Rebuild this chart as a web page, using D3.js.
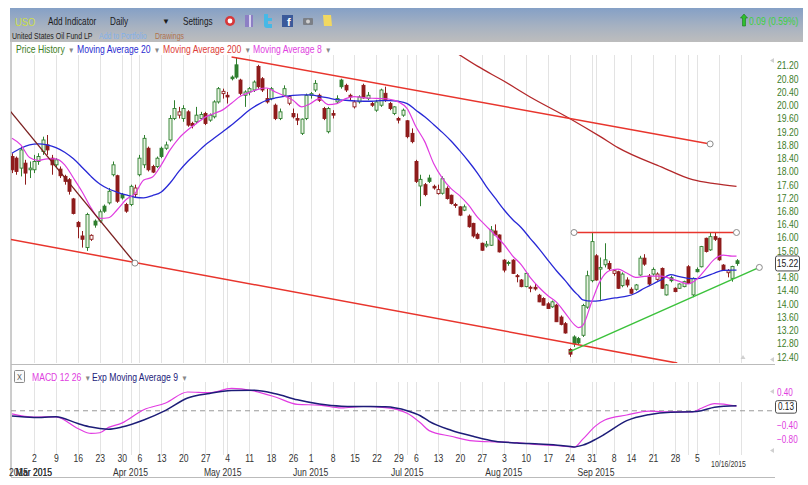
<!DOCTYPE html>
<html>
<head>
<meta charset="utf-8">
<script src="https://d3js.org/d3.v7.min.js"></script>
<style>
  body { margin: 0; background: #fff; }
  svg { display: block; font-family: "Liberation Sans", Arial, sans-serif; }
</style>
</head>
<body>
<div id="chartHere"></div>
<script>

var dims = {"width": 808, "height": 485};

// USO daily, Feb 23 - Oct 16 2015 (trading days only)
var firstDay = "2015-02-23", lastDay = "2015-10-16";
var holidays = ["2015-04-03", "2015-05-25", "2015-07-03", "2015-09-07"];

var open  = [18.45,18.4,18.1,18.25,18.05,18.05,18.3,18.6,18.8,18.4,18.2,18.07,17.85,17.75,17.17,16.46,16.05,15.7,15.95,16.5,
             16.5,16.95,17.05,17.9,17.87,17.3,17.0,17.0,17.3,17.9,18.2,18.7,18.15,18.15,18.7,18.7,18.95,19.6,19.7,19.6,
             19.8,19.45,19.5,19.6,19.75,19.55,19.65,20.1,20.35,20.3,20.85,21.22,20.76,20.3,20.4,20.46,21.17,20.8,20.2,20.2,
             20.0,19.6,20.3,20.06,19.75,19.6,19.15,19.6,20.3,20.46,20.3,19.9,19.2,19.75,20.1,20.76,20.6,20.3,19.95,20.1,
             20.6,20.2,20.05,19.85,20.0,20.36,20.05,19.75,19.6,19.7,19.53,19.15,18.3,17.56,17.6,17.8,17.55,17.33,17.34,17.49,
             17.28,17.0,16.93,16.83,16.65,16.43,16.1,15.83,15.75,15.77,16.2,16.08,15.32,15.25,15.32,14.85,14.72,14.52,14.5,14.5,
             14.26,14.16,14.0,13.91,13.96,13.6,13.4,12.62,13.0,12.95,13.05,13.9,14.7,15.45,15.05,15.18,15.22,14.92,14.97,14.55,
             14.72,14.44,14.44,14.87,15.38,14.84,14.9,14.74,15.07,14.27,14.79,14.47,14.47,14.52,15.12,14.27,15.04,15.12,15.98,15.63,
             16.03,15.98,15.17,14.94,14.77,15.3];
var high  = [18.55,18.45,18.75,18.35,18.3,18.5,18.55,19.05,19.1,18.5,18.4,18.15,17.9,17.8,17.2,16.5,16.2,16.75,16.1,16.55,
             16.85,17.0,17.5,18.3,17.9,17.35,17.05,17.6,17.6,18.5,19.1,18.75,18.2,18.45,18.75,18.9,19.7,20.15,19.95,20.0,
             19.85,19.5,19.95,19.8,19.8,19.75,20.15,20.55,20.5,20.4,20.9,21.44,20.8,20.45,20.55,20.75,21.22,20.85,20.5,20.55,
             20.05,19.9,20.6,20.3,19.9,19.75,19.6,20.35,20.4,20.76,20.35,19.95,19.95,19.85,20.3,20.8,20.65,20.35,20.15,20.3,
             20.65,20.4,20.1,20.16,20.5,20.56,20.1,19.97,19.65,19.9,19.55,19.3,18.35,17.9,17.65,17.9,17.6,17.6,17.85,17.55,
             17.3,17.05,16.95,17.0,16.7,16.45,16.15,15.85,15.9,16.35,16.4,16.1,15.35,15.3,15.35,14.9,14.75,14.95,14.55,14.6,
             14.3,14.2,14.05,14.1,14.0,13.65,13.45,12.66,13.05,13.0,14.0,15.0,16.15,15.5,15.4,15.83,15.3,15.05,15.0,14.95,
             14.8,14.5,14.6,15.45,15.5,14.9,15.1,14.95,15.1,14.6,14.85,14.5,14.62,14.7,15.17,14.8,15.1,15.75,16.0,16.15,
             16.15,16.0,15.2,15.05,15.15,15.35];
var low   = [17.95,17.9,17.85,17.6,17.8,17.95,18.2,18.5,18.5,17.9,18.1,17.8,17.6,17.3,16.7,15.98,15.7,15.6,15.9,16.3,
             16.45,16.75,17.0,17.85,17.05,17.15,16.75,16.95,17.2,17.85,18.1,18.0,17.95,18.1,18.4,18.65,18.9,19.55,19.6,19.5,
             19.35,19.3,19.45,19.55,19.4,19.5,19.6,20.05,20.2,20.05,20.75,20.8,20.3,19.95,20.3,20.4,20.5,20.4,20.05,20.15,
             19.55,19.55,20.25,20.0,19.6,19.4,19.1,19.55,20.2,20.4,20.1,19.55,19.15,19.6,20.05,20.5,20.4,20.15,19.9,20.05,
             20.2,20.15,19.95,19.8,19.95,20.1,19.85,19.7,19.45,19.65,19.0,18.85,17.65,16.95,17.25,17.65,17.45,17.3,17.3,17.15,
             17.0,16.9,16.65,16.8,16.3,16.0,15.95,15.6,15.7,15.75,16.05,15.55,14.95,15.15,14.9,14.65,14.5,14.5,14.35,14.4,
             14.05,13.95,13.85,13.88,13.45,13.35,13.1,12.4,12.7,12.75,13.0,13.85,14.65,14.7,14.12,15.1,15.0,14.85,14.45,14.5,
             14.5,14.3,14.4,14.85,15.15,14.55,14.85,14.7,14.45,14.25,14.65,14.35,14.45,14.5,14.6,14.2,14.95,15.1,15.55,15.6,
             15.9,15.3,15.0,14.8,14.67,15.15];
var close = [18.05,18.0,18.65,17.95,18.1,18.3,18.45,18.95,18.65,18.2,18.35,17.87,17.7,17.4,16.73,16.33,15.95,16.7,16.07,16.38,
             16.78,16.8,17.4,18.2,17.1,17.2,16.8,17.55,17.5,18.4,19.0,18.05,17.98,18.4,18.45,18.8,19.6,19.9,19.8,19.9,
             19.4,19.38,19.7,19.72,19.45,19.7,20.1,20.5,20.42,20.25,20.8,20.85,20.36,20.4,20.5,20.7,20.56,20.46,20.1,20.5,
             19.6,19.8,20.5,20.26,19.65,19.55,19.58,20.3,20.35,20.66,20.15,19.6,19.9,19.7,20.2,20.56,20.46,20.25,20.1,20.25,
             20.22,20.3,20.0,20.1,20.46,20.16,19.9,19.95,19.55,19.85,19.05,18.9,17.7,17.76,17.3,17.7,17.5,17.45,17.78,17.18,
             17.03,16.98,16.68,16.93,16.33,16.05,15.98,15.62,15.8,16.23,16.08,15.57,15.02,15.22,14.92,14.82,14.52,14.92,14.47,14.45,
             14.06,13.96,13.86,14.06,13.46,13.38,13.12,12.48,12.79,12.82,13.95,14.85,15.88,14.72,15.1,15.33,15.06,15.0,14.47,14.9,
             14.57,14.32,14.57,15.38,15.2,14.6,15.04,14.9,14.47,14.57,14.7,14.37,14.6,14.67,14.62,14.77,14.97,15.73,15.58,16.03,
             15.95,15.33,15.02,15.0,15.13,15.22];

// moving averages, by trading-day index
var maDays = [0,2,4,6,8,10,12,14,16,18,20,22,24,26,28,30,32,34,36,38,40,42,44,46,48,50,52,54,56,58,60,62,64,66,68,70,72,74,76,78,
              80,82,84,86,88,90,92,94,96,98,100,102,104,106,108,110,112,114,116,118,120,122,124,126,128,129,130,132,134,136,
              138,140,142,144,146,148,150,152,154,156,158,160,162,164,165];
var ma20 = [18.55,18.7,18.8,18.83,18.8,18.72,18.58,18.38,18.12,17.85,17.62,17.47,17.37,17.29,17.22,17.2,17.27,17.38,17.65,18.0,
            18.3,18.55,18.8,19.0,19.2,19.4,19.62,19.85,20.02,20.15,20.22,20.27,20.3,20.31,20.31,20.27,20.22,20.17,20.15,20.13,
            20.12,20.12,20.14,20.14,20.12,20.05,19.85,19.65,19.42,19.18,18.92,18.62,18.3,17.95,17.55,17.2,16.85,16.55,16.3,15.98,
            15.67,15.33,15.0,14.7,14.38,14.25,14.12,14.08,14.1,14.15,14.19,14.23,14.32,14.47,14.6,14.74,14.88,14.82,14.77,14.76,
            14.83,14.93,15.01,15.02,15.02];
var ma8  = [19.0,18.8,18.42,18.33,18.38,18.38,18.2,17.8,17.38,16.9,16.58,16.6,16.85,17.15,17.33,17.74,17.83,18.2,18.65,19.0,
            19.25,19.45,19.64,19.75,19.86,20.06,20.27,20.38,20.48,20.52,20.4,20.28,20.15,19.95,20.05,20.2,20.02,20.05,20.2,20.26,
            20.23,20.21,20.2,20.18,20.1,19.9,19.35,18.9,18.25,17.8,17.48,17.26,16.98,16.62,16.35,16.08,15.8,15.45,15.18,14.8,
            14.5,14.25,14.05,13.72,13.38,13.28,13.35,14.05,14.7,15.0,15.05,14.93,14.8,14.83,14.84,14.84,14.76,14.68,14.6,14.75,
            15.05,15.35,15.47,15.44,15.44];
var ma200Days = [101,106,112,118,127,134,138,148,155,160,165];
var ma200     = [21.6,21.18,20.73,20.25,19.6,19.05,18.72,18.13,17.75,17.63,17.55];

var macdDays   = [0,5,10,15,18,20,22,25,30,35,40,45,50,55,60,65,70,75,80,85,90,93,95,100,105,110,115,120,125,128,130,133,135,140,145,150,155,157,160,165];
var macd       = [-0.09,-0.18,-0.17,-0.5,-0.64,-0.62,-0.47,-0.35,0.03,0.22,0.53,0.51,0.63,0.56,0.39,0.18,0.16,0.08,0.12,0.09,
                  -0.07,-0.34,-0.56,-0.72,-0.85,-0.88,-0.9,-0.96,-0.99,-1.03,-0.8,-0.42,-0.26,-0.12,-0.01,-0.03,-0.03,0.07,0.2,0.13];
var macdSignal = [-0.15,-0.19,-0.17,-0.36,-0.46,-0.5,-0.52,-0.46,-0.26,0.01,0.36,0.49,0.57,0.58,0.48,0.31,0.19,0.13,0.12,0.11,
                  0.0,-0.14,-0.3,-0.55,-0.72,-0.86,-0.91,-0.94,-0.98,-1.02,-0.97,-0.8,-0.66,-0.28,-0.11,-0.04,-0.03,0.0,0.1,0.14];

var priceTicks = [12.4,12.8,13.2,13.6,14.0,14.4,14.8,15.2,15.6,16.0,16.4,16.8,17.2,17.6,18.0,18.4,18.8,19.2,19.6,20.0,20.4,20.8,21.2];
var macdTicks = [0.4, -0.4, -0.8];
var lastPrice = 15.22, lastMacd = 0.13;
var changeText = "0.09 (0.59%)";

// user drawings: [day index, price]
var channelTop    = [[50, 21.46], [159, 18.83]];
var channelBottom = [[-0.5, 15.95], [151.5, 12.21]];
var downTrend     = [[-0.5, 19.84], [28, 15.23]];
var resistance    = [[128, 16.155], [165, 16.155]];
var supportLine   = [[126.9, 12.55], [170.2, 15.1]];


var parseDay = d3.timeParse("%Y-%m-%d");
var dayKey = d3.timeFormat("%Y-%m-%d");
var dates = d3.timeDay.range(parseDay(firstDay), d3.timeDay.offset(parseDay(lastDay), 1))
  .filter(function (d) { return d.getDay() != 0 && d.getDay() != 6 && holidays.indexOf(dayKey(d)) < 0; });

// the original UI font is a narrow one: squeeze Liberation Sans sideways
var squeeze = 0.82;

var svg = d3.select("#chartHere").append("svg")
  .attr("width", dims.width)
  .attr("height", dims.height);

function label(parent, px, py, txt, size, color) {
  return parent.append("text")
    .attr("transform", "translate(" + px + "," + py + ") scale(" + squeeze + ",1)")
    .attr("font-size", size)
    .attr("fill", color)
    .text(txt);
}

var x = d3.scaleLinear().domain([0, close.length - 1]).range([12, 736.5]);
var y = d3.scaleLinear().domain([12.4, 21.2]).range([356.8, 65.5]);
var ym = d3.scaleLinear().domain([-0.8, 0.4]).range([439.1, 396.6]);

var defs = svg.append("defs");
var grad = defs.append("linearGradient").attr("id", "barGrad")
  .attr("x1", 0).attr("y1", 0).attr("x2", 0).attr("y2", 1);
grad.append("stop").attr("offset", "0%").attr("stop-color", "#85a0c6");
grad.append("stop").attr("offset", "55%").attr("stop-color", "#a7b2c1");
grad.append("stop").attr("offset", "100%").attr("stop-color", "#bdbdbd");
defs.append("clipPath").attr("id", "priceClip").append("rect")
  .attr("x", 11).attr("y", 55).attr("width", 761).attr("height", 308);
defs.append("clipPath").attr("id", "macdClip").append("rect")
  .attr("x", 11).attr("y", 380).attr("width", 761).attr("height", 76);

// ---- toolbar
svg.append("rect").attr("x", 10).attr("y", 8).attr("width", 793).attr("height", 34).attr("fill", "url(#barGrad)");

var bar = svg.append("g");
label(bar, 15, 26, "USO", 11.5, "#cddf4a");
label(bar, 48, 25, "Add Indicator", 10, "#1a1a1a");
label(bar, 110, 25, "Daily", 10, "#1a1a1a");
bar.append("text").attr("x", 162).attr("y", 24).attr("font-size", 8).attr("fill", "#1a1a1a").text("▼");
label(bar, 183, 25, "Settings", 10, "#1a1a1a");

// little toolbar icons
bar.append("circle").attr("cx", 230).attr("cy", 21).attr("r", 5).attr("fill", "#d8383a");
bar.append("circle").attr("cx", 230).attr("cy", 21).attr("r", 2.4).attr("fill", "#fff");
bar.append("rect").attr("x", 245).attr("y", 15).attr("width", 8).attr("height", 12).attr("fill", "#8c7fc4");
bar.append("rect").attr("x", 249).attr("y", 15).attr("width", 2).attr("height", 12).attr("fill", "#d9d4f0");
bar.append("path").attr("d", "M264,14 h4 v4 h4 v3 h-4 v3 h4 v4 h-5 q-3,0 -3,-3 z").attr("fill", "#46b8e6");
bar.append("rect").attr("x", 282).attr("y", 15).attr("width", 11).attr("height", 12).attr("fill", "#3b5a9a");
bar.append("text").attr("x", 287).attr("y", 26).attr("fill", "#fff").attr("font-size", 11).attr("font-weight", "bold").text("f");
bar.append("rect").attr("x", 303).attr("y", 18).attr("width", 10).attr("height", 7).attr("rx", 1).attr("fill", "#7b7f86");
bar.append("circle").attr("cx", 308).attr("cy", 21.5).attr("r", 2).attr("fill", "#d0d0d0");
bar.append("path").attr("d", "M323,15 h8 l1,11 h-8 z").attr("fill", "#f2d860");

label(bar, 12, 39, "United States Oil Fund LP", 8.5, "#222");
label(bar, 99, 39, "Add to Portfolio", 8.5, "#80b0ea");
label(bar, 155, 39, "Drawings", 8.5, "#b0714c");

bar.append("path").attr("d", "M744,14 l3.5,4 h-2 v8 h-3 v-8 h-2 z").attr("fill", "#2fbf2f").attr("stroke", "#1a7a1a").attr("stroke-width", 0.6);
label(bar, 749, 25, changeText, 10.5, "#3fd03f");

// ---- legend
var legend = [
  {"label": "Price History", "color": "#3d7d23", "x": 16},
  {"label": "Moving Average 20", "color": "#2b2bd0", "x": 77},
  {"label": "Moving Average 200", "color": "#dd3b36", "x": 163},
  {"label": "Moving Average 8", "color": "#e040e0", "x": 253}
];
legend.forEach(function (d) {
  label(svg, d.x, 53, d.label, 10.5, d.color)
    .append("tspan").attr("fill", "#888").attr("font-size", 8).attr("dx", 4).text("▼");
});

// ---- frame
svg.append("line").attr("x1", 11).attr("x2", 11).attr("y1", 42).attr("y2", 477).attr("stroke", "#9a9a9a");
svg.append("line").attr("x1", 11).attr("x2", 775).attr("y1", 364.5).attr("y2", 364.5).attr("stroke", "#bbbbbb");
svg.append("line").attr("x1", 11).attr("x2", 775).attr("y1", 477.5).attr("y2", 477.5).attr("stroke", "#bbbbbb");

// ---- vertical grid: first trading day of each week and month, plus next Monday
var gridDays = [];
dates.forEach(function (d, i) {
  if (i == 0) return;
  var newWeek = d3.timeMonday.floor(d).getTime() != d3.timeMonday.floor(dates[i - 1]).getTime();
  var newMonth = d.getMonth() != dates[i - 1].getMonth();
  if (newWeek || newMonth) gridDays.push(i);
});
gridDays.push(dates.length);

var weekDays = gridDays.filter(function (i) {
  return i < dates.length && d3.timeMonday.floor(dates[i]).getTime() != d3.timeMonday.floor(dates[i - 1]).getTime();
});
var monthDays = gridDays.filter(function (i) {
  return i < dates.length && dates[i].getMonth() != dates[i - 1].getMonth();
});

svg.append("g").selectAll("line").data(gridDays).enter().append("line")
  .attr("x1", function (d) { return Math.round(x(d)) + 0.5; })
  .attr("x2", function (d) { return Math.round(x(d)) + 0.5; })
  .attr("y1", 55).attr("y2", 363)
  .attr("stroke", "#e3e3e3");
svg.append("g").selectAll("line").data(gridDays).enter().append("line")
  .attr("x1", function (d) { return Math.round(x(d)) + 0.5; })
  .attr("x2", function (d) { return Math.round(x(d)) + 0.5; })
  .attr("y1", 382).attr("y2", 455)
  .attr("stroke", "#e3e3e3");

// ---- price panel
var plot = svg.append("g").attr("clip-path", "url(#priceClip)");

var candles = plot.append("g").selectAll("g").data(close).enter().append("g");
function candleColor(i) {
  var prev = i > 0 ? close[i - 1] : open[i];
  return close[i] >= prev ? "#2f7f2f" : "#8f1c1c";
}
function hollow(i) { return close[i] >= open[i]; }

candles.append("line")
  .attr("x1", function (d, i) { return Math.round(x(i)) + 0.5; })
  .attr("x2", function (d, i) { return Math.round(x(i)) + 0.5; })
  .attr("y1", function (d, i) { return y(high[i]); })
  .attr("y2", function (d, i) { return y(low[i]); })
  .attr("stroke", function (d, i) { return candleColor(i); });
candles.append("rect")
  .attr("x", function (d, i) { return Math.round(x(i)) - 1; })
  .attr("width", 3)
  .attr("y", function (d, i) { return y(Math.max(open[i], close[i])); })
  .attr("height", function (d, i) { return Math.max(1, Math.abs(y(open[i]) - y(close[i]))); })
  .attr("fill", function (d, i) {
    if (!hollow(i)) return candleColor(i);
    return close[i] >= (i > 0 ? close[i - 1] : open[i]) ? "#e8f3e2" : "#ffffff";
  })
  .attr("stroke", function (d, i) { return candleColor(i); })
  .attr("stroke-width", 0.9);

function curveOf(days, vals) {
  return d3.line()
    .x(function (d, k) { return x(days[k]); })
    .y(function (d) { return y(d); })
    .curve(d3.curveMonotoneX)(vals);
}
plot.append("path").attr("d", curveOf(ma200Days, ma200)).attr("fill", "none").attr("stroke", "#b3282a").attr("stroke-width", 1.3);
plot.append("path").attr("d", curveOf(maDays, ma20)).attr("fill", "none").attr("stroke", "#2828d6").attr("stroke-width", 1.3);
plot.append("path").attr("d", curveOf(maDays, ma8)).attr("fill", "none").attr("stroke", "#e03ce0").attr("stroke-width", 1.2);

var segment = d3.line().x(function (d) { return x(d[0]); }).y(function (d) { return y(d[1]); });
var drawings = [
  {"pts": channelTop, "color": "#e8352d", "w": 1.5, "ends": [1]},
  {"pts": channelBottom, "color": "#e8352d", "w": 1.5, "ends": []},
  {"pts": downTrend, "color": "#7a1f1f", "w": 1.3, "ends": [1]},
  {"pts": resistance, "color": "#e8352d", "w": 1.5, "ends": [0, 1]},
  {"pts": supportLine, "color": "#3cc23c", "w": 1.5, "ends": [1]}
];
drawings.forEach(function (dr) {
  plot.append("path").attr("d", segment(dr.pts)).attr("fill", "none")
    .attr("stroke", dr.color).attr("stroke-width", dr.w);
  dr.ends.forEach(function (e) {
    plot.append("circle").attr("cx", x(dr.pts[e][0])).attr("cy", y(dr.pts[e][1])).attr("r", 3)
      .attr("fill", "#fff").attr("stroke", "#8a8a8a");
  });
});

// price axis on the right
var yAxis = d3.axisRight(y)
  .tickValues(priceTicks.filter(function (t) { return Math.abs(y(t) - y(lastPrice)) > 9; }))
  .tickSize(0).tickPadding(0)
  .tickFormat(d3.format(".2f"));
var ya = svg.append("g").attr("transform", "translate(777,0)").call(yAxis);
ya.select(".domain").remove();
ya.selectAll("text").attr("fill", "#3d7d2a").attr("font-size", 10.5)
  .attr("font-family", "Liberation Sans, Arial, sans-serif")
  .attr("transform", "scale(" + squeeze + ",1)");

svg.append("rect").attr("x", 775.5).attr("y", y(lastPrice) - 7.5).attr("width", 24).attr("height", 15).attr("rx", 2)
  .attr("fill", "#fff").attr("stroke", "#4a4a4a");
label(svg, 787.5, y(lastPrice) + 3.8, d3.format(".2f")(lastPrice), 10.5, "#222").attr("text-anchor", "middle");

svg.append("path").attr("d", "M774,58 l-4,2.5 l4,2.5 z").attr("fill", "#d0d0d0");
svg.append("path").attr("d", "M774,357 l-4,2.5 l4,2.5 z").attr("fill", "#d0d0d0");
svg.append("path").attr("d", "M743,355 l2.5,4 h-5 z").attr("fill", "#d0d0d0");

// ---- MACD panel
svg.append("rect").attr("x", 14.5).attr("y", 370.5).attr("width", 10).attr("height", 12).attr("rx", 1)
  .attr("fill", "#fafafa").attr("stroke", "#8a8a8a");
label(svg, 19.5, 380, "X", 9, "#555").attr("text-anchor", "middle");
label(svg, 32, 381, "MACD 12 26", 10.5, "#e040e0")
  .append("tspan").attr("fill", "#888").attr("font-size", 8).attr("dx", 4).text("▼");
label(svg, 92, 381, "Exp Moving Average 9", 10.5, "#22227a")
  .append("tspan").attr("fill", "#888").attr("font-size", 8).attr("dx", 4).text("▼");

var mplot = svg.append("g").attr("clip-path", "url(#macdClip)");
mplot.append("line").attr("x1", 11).attr("x2", 772).attr("y1", ym(0)).attr("y2", ym(0))
  .attr("stroke", "#999").attr("stroke-dasharray", "5,4");

function macdCurve(vals) {
  return d3.line()
    .x(function (d, k) { return x(macdDays[k]); })
    .y(function (d) { return ym(d); })
    .curve(d3.curveMonotoneX)(vals);
}
mplot.append("path").attr("d", macdCurve(macd)).attr("fill", "none").attr("stroke", "#e23ce2").attr("stroke-width", 1.2);
mplot.append("path").attr("d", macdCurve(macdSignal)).attr("fill", "none").attr("stroke", "#1d1d78").attr("stroke-width", 1.5);

var mAxis = d3.axisRight(ym).tickValues(macdTicks).tickSize(0).tickPadding(0).tickFormat(d3.format(".2f"));
var ma = svg.append("g").attr("transform", "translate(777,0)").call(mAxis);
ma.select(".domain").remove();
ma.selectAll("text").attr("fill", "#e040e0").attr("font-size", 10)
  .attr("font-family", "Liberation Sans, Arial, sans-serif")
  .attr("transform", "scale(" + squeeze + ",1)");
ma.selectAll(".tick").filter(function (t) { return t > 0; }).select("text").attr("dy", "-0.1em");

svg.append("rect").attr("x", 775.5).attr("y", ym(lastMacd) - 5.5).attr("width", 21).attr("height", 12.5).attr("rx", 2)
  .attr("fill", "#fff").attr("stroke", "#4a4a4a");
label(svg, 786, ym(lastMacd) + 4.2, d3.format(".2f")(lastMacd), 10, "#222").attr("text-anchor", "middle");

svg.append("path").attr("d", "M774,389 l-4,2.5 l4,2.5 z").attr("fill", "#d0d0d0");
svg.append("path").attr("d", "M774,448 l-4,2.5 l4,2.5 z").attr("fill", "#d0d0d0");

// ---- date axis
var stampX = x(close.length - 1) - 8;
var dayFmt = d3.timeFormat("%-d");
var xAxis = d3.axisBottom(x)
  .tickValues(weekDays.filter(function (i) { return x(i) > 25 && x(i) < stampX - 25; }))
  .tickSize(0).tickPadding(0)
  .tickFormat(function (i) { return dayFmt(dates[i]); });
var xa = svg.append("g").attr("transform", "translate(0,455)").call(xAxis);
xa.select(".domain").remove();
xa.selectAll("text").attr("fill", "#333").attr("font-size", 10.5)
  .attr("font-family", "Liberation Sans, Arial, sans-serif")
  .attr("transform", "scale(" + squeeze + ",1)");

// month names; the year stamp at the far left runs into "Mar 2015" as in the original
var monthFmt = d3.timeFormat("%b %Y");
monthDays.filter(function (i) { return x(i) < 680; }).concat([5]).forEach(function (i) {
  label(svg, x(i), 476, monthFmt(dates[i]), 10.5, "#333").attr("text-anchor", "middle");
});
label(svg, 9, 476, "2015", 10.5, "#333");

label(svg, stampX, 467, d3.timeFormat("%m/%d/%Y")(dates[dates.length - 1]), 8.5, "#333").attr("text-anchor", "middle");

</script>
</body>
</html>
